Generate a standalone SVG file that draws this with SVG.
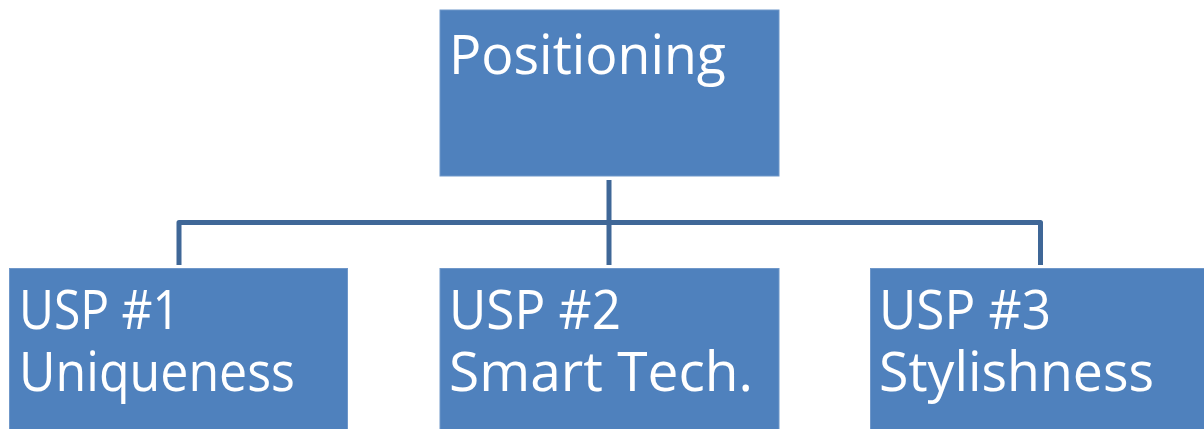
<svg xmlns="http://www.w3.org/2000/svg" width="1204" height="429" viewBox="0 0 1204 429">
  <style>
    .box { fill: #4F81BD; stroke: #6F97C9; stroke-width: 1; }
    .lbl { fill: #FFFFFF; font-family: "Open Sans", "DejaVu Sans", sans-serif; font-size: 54px; }
    .wire { fill: none; stroke: #3F6797; stroke-width: 5; stroke-linejoin: round; }
  </style>
  <rect width="1204" height="429" fill="#FFFFFF"/>
  <g id="connectors">
    <path class="wire" d="M609 180 V265"/>
    <path class="wire" d="M179 265 V222.5 H1040.5 V265"/>
  </g>
  <g id="positioning">
    <rect class="box" x="440" y="10" width="339" height="166"/>
    <text class="lbl" x="449" y="74" textLength="277" lengthAdjust="spacingAndGlyphs">Positioning</text>
  </g>
  <g id="usp1">
    <rect class="box" x="9.5" y="268.5" width="338" height="170"/>
    <text class="lbl" x="19" y="329" textLength="161" lengthAdjust="spacingAndGlyphs">USP #1</text>
    <text class="lbl" x="19" y="391" textLength="276" lengthAdjust="spacingAndGlyphs">Uniqueness</text>
  </g>
  <g id="usp2">
    <rect class="box" x="440" y="268.5" width="339" height="170"/>
    <text class="lbl" x="449" y="329" textLength="172" lengthAdjust="spacingAndGlyphs">USP #2</text>
    <text class="lbl" x="449" y="391" textLength="304" lengthAdjust="spacingAndGlyphs">Smart Tech.</text>
  </g>
  <g id="usp3">
    <rect class="box" x="870.5" y="268.5" width="340" height="170"/>
    <text class="lbl" x="879" y="329" textLength="172" lengthAdjust="spacingAndGlyphs">USP #3</text>
    <text class="lbl" x="879" y="391" textLength="275" lengthAdjust="spacingAndGlyphs">Stylishness</text>
  </g>
</svg>
